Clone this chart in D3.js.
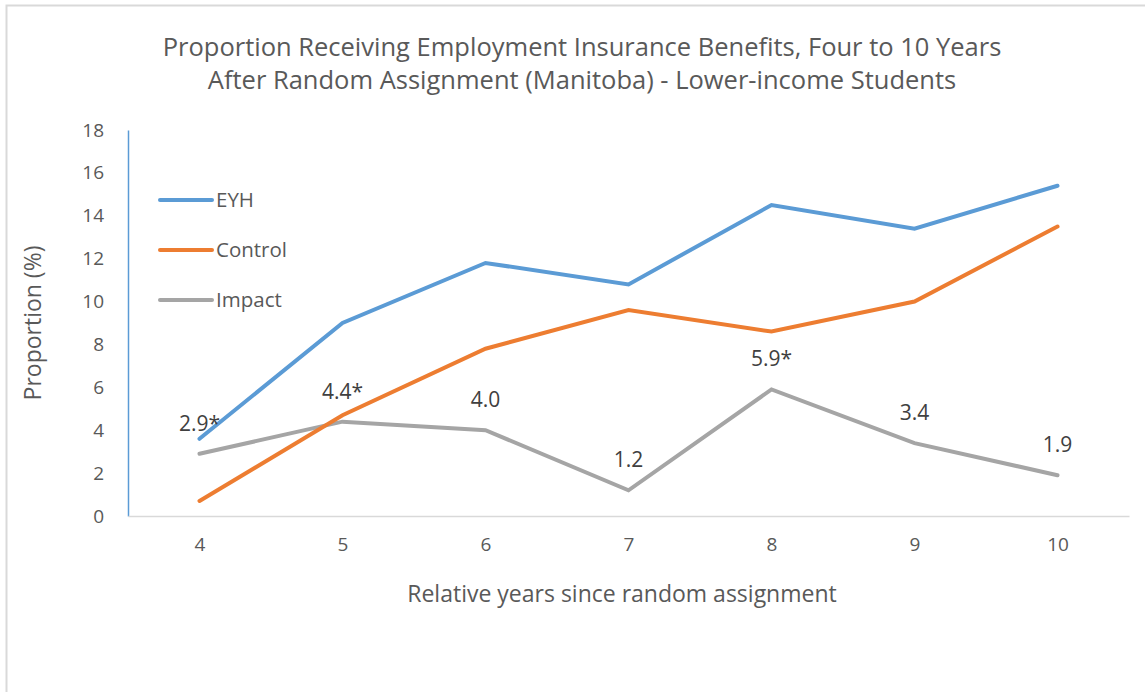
<!DOCTYPE html>
<html>
<head>
<meta charset="utf-8">
<script src="https://cdn.jsdelivr.net/npm/d3@7"></script>
<style>
  body { margin: 0; background: #fff; }
  text { font-family: "Open Sans", sans-serif; }
</style>
</head>
<body>
<div id="chart"></div>
<script>
// chart data
const years = ["4", "5", "6", "7", "8", "9", "10"];
const eyh = [3.6, 9.0, 11.8, 10.8, 14.5, 13.4, 15.4];
const control = [0.7, 4.7, 7.8, 9.6, 8.6, 10.0, 13.5];
const impact = [2.9, 4.4, 4.0, 1.2, 5.9, 3.4, 1.9];
const impactLabels = ["2.9*", "4.4*", "4.0", "1.2", "5.9*", "3.4", "1.9"];
const yTicks = [0, 2, 4, 6, 8, 10, 12, 14, 16, 18];

const width = 1145;
const height = 692;
const margin = { top: 130, right: 16, bottom: 176, left: 128 };

const svg = d3.select("#chart")
  .append("svg")
  .attr("width", width)
  .attr("height", height);

// chart frame (only top and left show in the picture)
svg.append("rect")
  .attr("x", 6.5)
  .attr("y", 5.5)
  .attr("width", width + 20)
  .attr("height", height + 20)
  .attr("fill", "none")
  .attr("stroke", "#d9d9d9")
  .attr("stroke-width", 2);

const x = d3.scalePoint()
  .domain(years)
  .range([margin.left, width - margin.right])
  .padding(0.5);

const y = d3.scaleLinear()
  .domain([0, 18])
  .range([height - margin.bottom, margin.top]);

// title
svg.append("text")
  .attr("x", 582)
  .attr("y", 56)
  .attr("text-anchor", "middle")
  .attr("fill", "#595959")
  .style("font-size", "25.5px")
  .selectAll("tspan")
  .data(["Proportion Receiving Employment Insurance Benefits, Four to 10 Years",
         "After Random Assignment (Manitoba) - Lower-income Students"])
  .join("tspan")
  .attr("x", 582)
  .attr("dy", (d, i) => i ? 33 : 0)
  .text(d => d);

// y axis
const yAxis = svg.append("g")
  .attr("transform", `translate(${margin.left},0)`)
  .call(d3.axisLeft(y).tickValues(yTicks).tickSize(0).tickPadding(24));
yAxis.select(".domain").attr("stroke", "#5b9bd5").attr("stroke-width", 1.5);
yAxis.selectAll("text").attr("fill", "#595959").style("font-size", "19px");

// x axis
const xAxis = svg.append("g")
  .attr("transform", `translate(0,${height - margin.bottom})`)
  .call(d3.axisBottom(x).tickSize(0).tickPadding(22));
xAxis.select(".domain").attr("stroke", "#d9d9d9").attr("stroke-width", 1.5);
xAxis.selectAll("text").attr("fill", "#595959").style("font-size", "19px");

// axis titles
svg.append("text")
  .attr("x", 622)
  .attr("y", 602)
  .attr("text-anchor", "middle")
  .attr("fill", "#595959")
  .style("font-size", "23px")
  .text("Relative years since random assignment");

svg.append("text")
  .attr("transform", "translate(41,323) rotate(-90)")
  .attr("text-anchor", "middle")
  .attr("fill", "#595959")
  .style("font-size", "23px")
  .text("Proportion (%)");

// lines
const series = [
  { name: "EYH", values: eyh, color: "#5b9bd5" },
  { name: "Control", values: control, color: "#ed7d31" },
  { name: "Impact", values: impact, color: "#a5a5a5" }
];

const line = d3.line()
  .x((d, i) => x(years[i]))
  .y(d => y(d));

svg.selectAll(".series")
  .data(series.slice().reverse())
  .join("path")
  .attr("class", "series")
  .attr("d", d => line(d.values))
  .attr("fill", "none")
  .attr("stroke", d => d.color)
  .attr("stroke-width", 4)
  .attr("stroke-linejoin", "miter")
  .attr("stroke-linecap", "round");

// impact data labels
svg.selectAll(".lbl")
  .data(impact)
  .join("text")
  .attr("class", "lbl")
  .attr("x", (d, i) => x(years[i]))
  .attr("y", d => y(d) - 23)
  .attr("text-anchor", "middle")
  .attr("fill", "#404040")
  .style("font-size", "21px")
  .text((d, i) => impactLabels[i]);

// legend
const legend = svg.selectAll(".legend")
  .data(series)
  .join("g")
  .attr("class", "legend")
  .attr("transform", (d, i) => `translate(160,${200 + i * 50})`);

legend.append("line")
  .attr("x1", 0)
  .attr("x2", 52)
  .attr("stroke", d => d.color)
  .attr("stroke-width", 4)
  .attr("stroke-linecap", "round");

legend.append("text")
  .attr("x", 56)
  .attr("y", 7)
  .attr("fill", "#595959")
  .style("font-size", "20.5px")
  .text(d => d.name);
</script>
</body>
</html>
